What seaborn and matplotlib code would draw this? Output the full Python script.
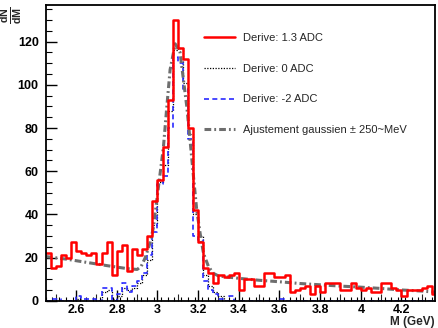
import numpy as np
import pandas as pd
import matplotlib
matplotlib.use("Agg")
import matplotlib.pyplot as plt
import seaborn as sns
from matplotlib.ticker import MultipleLocator, FuncFormatter, FixedLocator
from matplotlib.lines import Line2D

# ---------------- data ----------------
bin_start = 2.45
bin_width = 0.025

red_13adc = [22, 15, 16, 21, 20, 27, 23, 22, 21, 22, 17, 22, 27, 12, 23, 26, 14, 24, 21, 24,
             30, 46, 56, 71, 93, 130, 117, 112, 80, 42, 27, 15, 13, 8, 12,
             11, 12, 13, 5, 10, 10, 7, 7, 13, 13, 11, 11, 12, 4, 5, 6, 7, 3, 7, 4,
             8, 8, 8, 5, 5, 8, 6, 5, 6, 4, 4, 8, 8, 6, 5, 2, 5, 5, 5, 6, 7, 3]

dotted_0adc = [0, 0, 0, 0, 0, 0, 1, 0, 0, 0, 0, 4, 5, 1, 2, 6, 5, 6, 8, 12,
               19, 35, 55, 63, 88, 116, 117, 101, 77, 40, 30, 12, 7, 4, 2,
               0, 0, 0, 0, 0, 0, 0, 0, 0, 0, 0, 0, 0, 0, 0, 0, 0, 0, 0, 0,
               0, 0, 0, 0, 0, 0, 0, 0, 0, 0, 0, 0, 0, 0, 0, 0, 0, 0, 0, 0, 0, 0]

blue_m2adc = [0, 1, 1, 0, 0, 0, 2, 1, 1, 1, 0, 6, 6, 0, 3, 8, 4, 7, 9, 13,
              21, 32, 54, 58, 80, 113, 110, 98, 75, 30, 28, 9, 5, 3, 1,
              0, 2, 0, 0, 0, 0, 0, 0, 0, 0, 0, 1, 0, 0, 0, 0, 0, 0, 0, 0,
              0, 0, 0, 0, 0, 0, 0, 0, 0, 0, 0, 0, 0, 0, 0, 0, 0, 0, 0, 0, 0, 0]

fit_mass = [2.45, 2.55, 2.65, 2.75, 2.85, 2.90, 2.92, 2.94, 2.964, 2.98, 3.005, 3.029,
            3.046, 3.062, 3.087, 3.111, 3.128, 3.144, 3.160, 3.177, 3.193, 3.21,
            3.226, 3.251, 3.275, 3.30, 3.40, 3.50, 3.60, 3.70, 3.80, 3.90, 4.00,
            4.10, 4.20, 4.30, 4.365]
fit_value = [20.5, 19.3, 17.8, 16.3, 14.9, 14.5, 16, 20, 27, 34, 53, 71,
             90, 107, 119, 115, 102, 90, 74.5, 57.5, 42, 31,
             22, 15.8, 12.7, 11.5, 10.4, 9.5, 8.8, 8.0, 7.4, 6.8, 6.3,
             5.7, 5.0, 4.5, 4.0]

labels = ["Derive: 1.3 ADC", "Derive: 0 ADC", "Derive: -2 ADC",
          "Ajustement gaussien \u00b1 250~MeV"]
x_label = "M (GeV)"

# ---------------- figure ----------------
sns.set_style("white")
plt.rcParams["font.family"] = ["Liberation Sans", "DejaVu Sans"]
plt.rcParams["mathtext.fontset"] = "custom"
plt.rcParams["mathtext.rm"] = "Liberation Sans"
plt.rcParams["mathtext.bf"] = "Liberation Sans:bold"

fig = plt.figure(figsize=(4.39, 3.28), dpi=100)
ax = fig.add_axes([0.104, 0.083, 0.887, 0.902])

nb = len(red_13adc)
hist_range = (bin_start, bin_start + bin_width * nb)
centers = bin_start + bin_width * (np.arange(nb) + 0.5)

df = pd.DataFrame({"m": centers, "red": red_13adc, "dot": dotted_0adc, "blue": blue_m2adc})

red_c, blue_c, fit_c = "#ff0000", "#2a2aff", "#6e6e6e"
dot_ls = (0, (1, 1.2))
blue_ls = (0, (3, 2))
fit_dash = [2.2, 1.0, 0.6, 1.0]

common = dict(x="m", binwidth=bin_width, binrange=hist_range, element="step", fill=False, ax=ax)
sns.histplot(data=df, weights="dot", color="black", linestyle=dot_ls, linewidth=0.9, **common)
sns.histplot(data=df, weights="blue", color=blue_c, linestyle=blue_ls, linewidth=1.2, **common)
fit_df = pd.DataFrame({"m": fit_mass, "v": fit_value})
sns.lineplot(data=fit_df, x="m", y="v", color=fit_c, linewidth=2.2, ax=ax)
ax.lines[-1].set_dashes(fit_dash)
sns.histplot(data=df, weights="red", color=red_c, linewidth=1.8, **common)

ax.set_xlim(2.45, 4.365)
ax.set_ylim(0, 137)
ax.set_xlabel("")
ax.set_ylabel("")

# ticks (ROOT style, inward)
ax.xaxis.set_major_locator(FixedLocator([2.6, 2.8, 3.0, 3.2, 3.4, 3.6, 3.8, 4.0, 4.2]))
ax.xaxis.set_major_formatter(FuncFormatter(lambda v, p: "%g" % round(v, 2)))
minor_x = [2.45 + i / 30 for i in range(0, 60)]
ax.xaxis.set_minor_locator(FixedLocator(minor_x))
ax.yaxis.set_major_locator(MultipleLocator(20))
ax.yaxis.set_minor_locator(MultipleLocator(5))
ax.tick_params(axis="both", which="both", direction="in", top=False, right=False,
               bottom=True, left=True, colors="black")
ax.tick_params(axis="x", which="major", length=8, width=1.0, pad=2)
ax.tick_params(axis="x", which="minor", length=3, width=0.8)
ax.tick_params(axis="y", which="major", length=8, width=1.0, pad=5)
ax.tick_params(axis="y", which="minor", length=4, width=0.8)
for lab in ax.get_xticklabels() + ax.get_yticklabels():
    lab.set_fontweight("bold")
    lab.set_fontsize(9)

sec = ax.secondary_xaxis("bottom")
sec.xaxis.set_major_locator(FixedLocator([2.5, 2.7, 2.9, 3.1, 3.3, 3.5, 3.7, 3.9, 4.1, 4.3]))
sec.tick_params(direction="in", length=5, width=0.8, labelbottom=False)
sec.spines["bottom"].set_visible(False)

for sp in ax.spines.values():
    sp.set_color("black")
    sp.set_linewidth(1.3)

fig.text(0.991, 0.0, x_label, ha="right", va="bottom", fontsize=8.5, fontweight="bold")
fig.text(0.027, 0.953, r"$\mathbf{\frac{dN}{dM}}$", rotation=90, ha="center", va="center",
         fontsize=11)

h_red = Line2D([], [], color=red_c, linewidth=1.8)
h_dot = Line2D([], [], color="black", linestyle=dot_ls, linewidth=0.9)
h_blue = Line2D([], [], color=blue_c, linestyle=blue_ls, linewidth=1.2)
h_fit = Line2D([], [], color=fit_c, linewidth=2.2, dashes=fit_dash)
ax.legend([h_red, h_dot, h_blue, h_fit], labels, frameon=False, loc="upper left",
          bbox_to_anchor=(0.38, 0.94), fontsize=8, handlelength=2.8, handletextpad=0.7,
          labelspacing=1.88)

fig.savefig("out.png", dpi=100)
